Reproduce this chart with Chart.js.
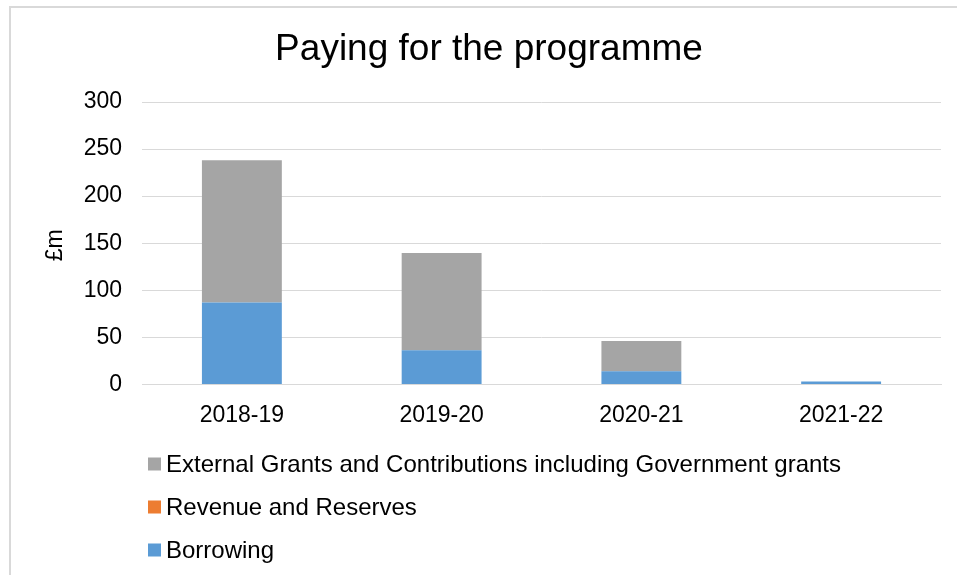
<!DOCTYPE html>
<html>
<head>
<meta charset="utf-8">
<script src="https://cdn.jsdelivr.net/npm/chart.js@4/dist/chart.umd.min.js"></script>
<style>
  html, body { margin: 0; padding: 0; background: #ffffff; }
  #wrap { position: relative; width: 957px; height: 575px; }
</style>
</head>
<body>
<div id="wrap"><canvas id="chart" width="957" height="575"></canvas></div>
<script>
// Funding sources for the capital programme, £m per financial year
const years = ['2018-19', '2019-20', '2020-21', '2021-22'];
const borrowing = [87, 36.3, 14, 3.2];
const revenueReserves = [0, 0, 0, 0];
const externalGrants = [151, 103.2, 32, 0];
const yTicks = [0, 50, 100, 150, 200, 250, 300];

const chartTitle = 'Paying for the programme';
const axisTitle = '£m';
const FONT = '"Liberation Sans", Arial, sans-serif';

// Legend entries, listed top-down (reverse of stack order)
const legendOrder = [2, 1, 0];

const framePlugin = {
  id: 'frame',
  beforeDraw(chart) {
    const ctx = chart.ctx;
    ctx.save();
    ctx.fillStyle = '#ffffff';
    ctx.fillRect(0, 0, chart.width, chart.height);
    ctx.strokeStyle = '#d9d9d9';
    ctx.lineWidth = 2;
    ctx.beginPath();
    ctx.moveTo(10, chart.height);
    ctx.lineTo(10, 7);
    ctx.lineTo(chart.width, 7);
    ctx.stroke();
    ctx.restore();
  },
  afterDraw(chart) {
    const ctx = chart.ctx;
    ctx.save();
    // title
    ctx.fillStyle = '#000000';
    ctx.font = '37px ' + FONT;
    ctx.textAlign = 'center';
    ctx.textBaseline = 'alphabetic';
    ctx.fillText(chartTitle, 489, 60);

    // y axis title, rotated
    const area = chart.chartArea;
    ctx.save();
    ctx.translate(56, (area.top + area.bottom) / 2 + 2);
    ctx.rotate(-Math.PI / 2);
    ctx.font = '23px ' + FONT;
    ctx.textAlign = 'center';
    ctx.textBaseline = 'middle';
    ctx.fillStyle = '#000000';
    ctx.fillText(axisTitle, 0, 0);
    ctx.restore();

    // stacked legend, one entry per row
    ctx.font = '24px ' + FONT;
    ctx.textAlign = 'left';
    ctx.textBaseline = 'middle';
    legendOrder.forEach((di, row) => {
      const ds = chart.data.datasets[di];
      const cy = 464 + row * 43;
      ctx.fillStyle = ds.backgroundColor;
      ctx.fillRect(148, cy - 6.5, 13, 13);
      ctx.fillStyle = '#000000';
      ctx.fillText(ds.label, 166, cy + 1);
    });
    ctx.restore();
  }
};

new Chart(document.getElementById('chart'), {
  type: 'bar',
  data: {
    labels: years,
    datasets: [
      { label: 'Borrowing', data: borrowing, backgroundColor: '#5b9bd5' },
      { label: 'Revenue and Reserves', data: revenueReserves, backgroundColor: '#ed7d31' },
      { label: 'External Grants and Contributions including Government grants', data: externalGrants, backgroundColor: '#a5a5a5' }
    ]
  },
  options: {
    responsive: false,
    animation: false,
    devicePixelRatio: 1,
    layout: { padding: { top: 102, right: 16, bottom: 129, left: 0 } },
    datasets: { bar: { barPercentage: 0.4, categoryPercentage: 1.0 } },
    plugins: {
      legend: { display: false },
      title: { display: false },
      tooltip: { enabled: false }
    },
    scales: {
      x: {
        stacked: true,
        grid: { display: false, drawTicks: false },
        border: { display: true, color: '#d9d9d9', width: 1 },
        ticks: { color: '#000000', font: { family: FONT, size: 23 }, padding: 17, maxRotation: 0 }
      },
      y: {
        stacked: true,
        min: yTicks[0],
        max: yTicks[yTicks.length - 1],
        afterFit(scale) { scale.width = 142; },
        afterBuildTicks(scale) { scale.ticks = yTicks.map(v => ({ value: v })); },
        grid: { color: '#d9d9d9', lineWidth: 1, drawTicks: false },
        border: { display: false },
        ticks: { color: '#000000', font: { family: FONT, size: 23 }, padding: 20 }
      }
    }
  },
  plugins: [framePlugin]
});
</script>
</body>
</html>
